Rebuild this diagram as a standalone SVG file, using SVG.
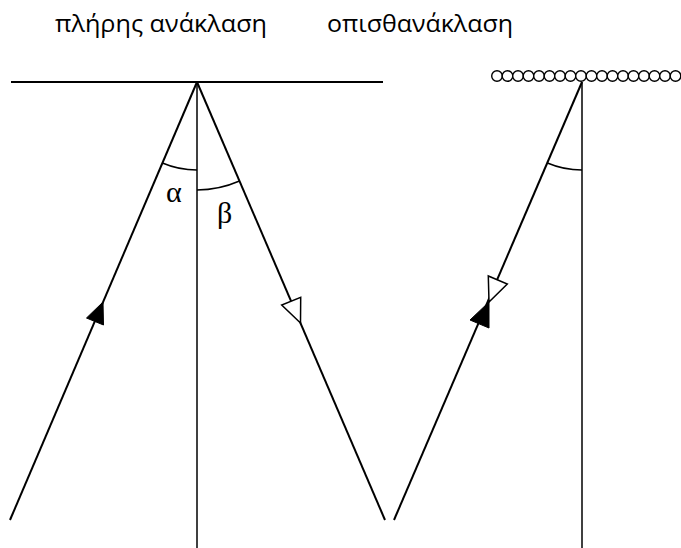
<svg xmlns="http://www.w3.org/2000/svg" width="681" height="548" viewBox="0 0 681 548">
<style>
.ln{stroke:#000;stroke-width:2;fill:none}
.th{stroke:#000;stroke-width:1.5;fill:none}
.lbl{font-family:"Open Sans","Noto Sans",sans-serif;font-size:24px;fill:#000}
.gr{font-family:"Liberation Serif","DejaVu Serif",serif;font-size:30px;fill:#000}
.fill{fill:#000;stroke:#000;stroke-width:1}
.open{fill:#fff;stroke:#000;stroke-width:1.5}
.cir{fill:#fff;stroke:#000;stroke-width:1.4}
</style>
<defs>
<circle id="c" r="5.3" class="cir"/>
</defs>
<g id="titles">
<text class="lbl" x="55" y="32" textLength="212" lengthAdjust="spacingAndGlyphs">πλήρης ανάκλαση</text>
<text class="lbl" x="327" y="32" textLength="186" lengthAdjust="spacingAndGlyphs">οπισθανάκλαση</text>
</g>
<g id="mirror">
<line x1="11" y1="82" x2="383" y2="82" stroke="#000" stroke-width="2"/>
</g>
<g id="rough-surface">
<use href="#c" x="497" y="76"/><use href="#c" x="507.5" y="76"/><use href="#c" x="518" y="76"/><use href="#c" x="528.5" y="76"/><use href="#c" x="539" y="76"/><use href="#c" x="549.5" y="76"/><use href="#c" x="560" y="76"/><use href="#c" x="570.5" y="76"/><use href="#c" x="581" y="76"/><use href="#c" x="591.5" y="76"/><use href="#c" x="602" y="76"/><use href="#c" x="612.5" y="76"/><use href="#c" x="623" y="76"/><use href="#c" x="633.5" y="76"/><use href="#c" x="644" y="76"/><use href="#c" x="654.5" y="76"/><use href="#c" x="665" y="76"/><use href="#c" x="675.5" y="76"/>
</g>
<g id="connectors">
<line class="th" x1="197" y1="82" x2="197" y2="548"/>
<line class="ln" x1="10" y1="520" x2="197" y2="82"/>
<line class="ln" x1="197" y1="82" x2="385" y2="520"/>
<line class="ln" x1="394" y1="520" x2="582" y2="82"/>
<line class="th" x1="582" y1="82" x2="582" y2="548"/>
</g>
<g id="angles">
<path class="th" d="M162.4,163 A88,88 0 0 0 197,170"/>
<path class="th" d="M197,190 A108,108 0 0 0 239.5,181"/>
<path class="th" d="M547.4,163 A88,88 0 0 0 582,170"/>
<text class="gr" x="166" y="202">α</text>
<text class="gr" x="217" y="223">β</text>
</g>
<g id="arrows">
<polygon class="fill" points="103,302 86.5,318 103.5,325"/>
<polygon class="open" points="300.5,323 281.7,305 300.7,297.3"/>
<polygon class="open" points="489,302 488.3,276 507.3,284"/>
<polygon class="fill" points="489,302 470,320 489,328"/>
</g>
</svg>
